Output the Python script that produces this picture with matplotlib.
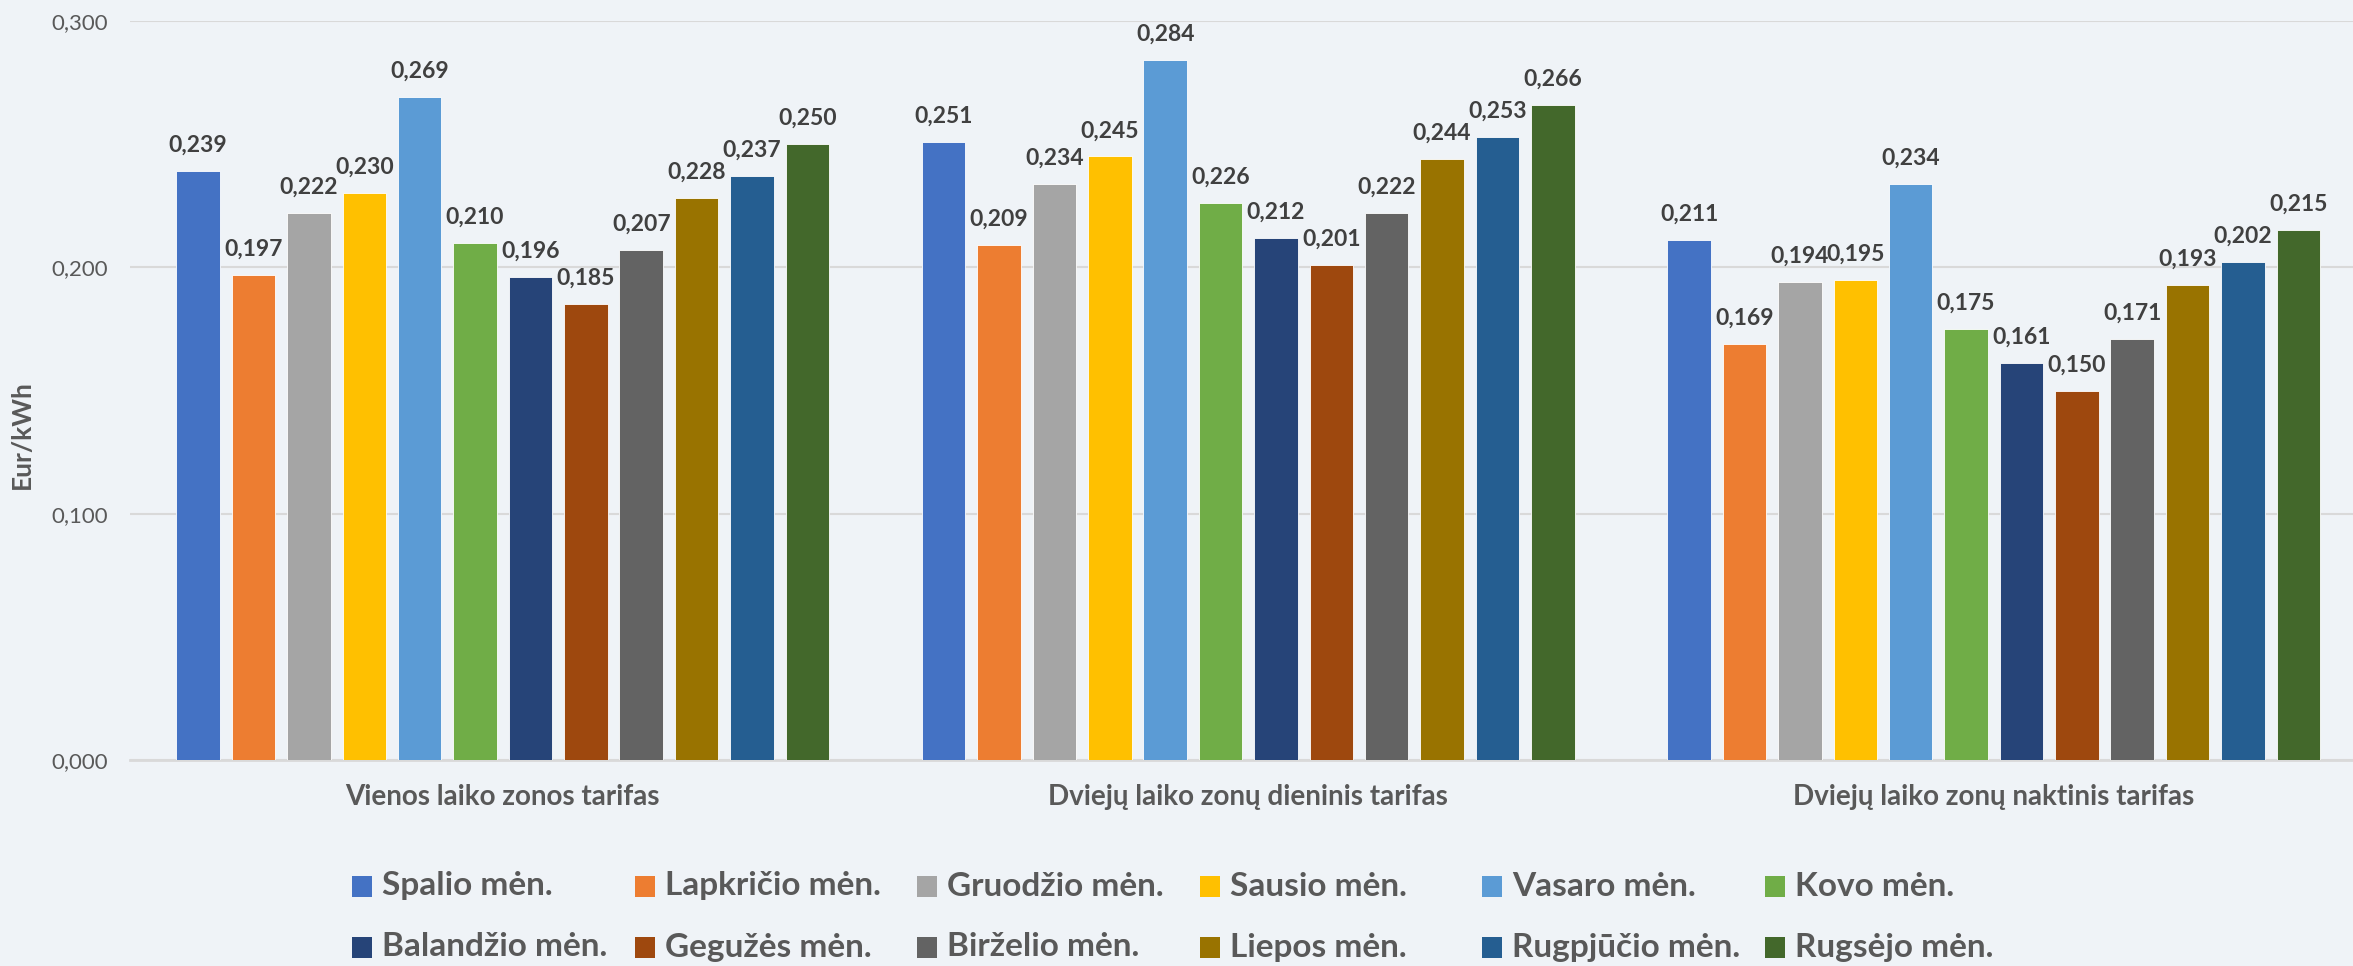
import numpy as np
import matplotlib.pyplot as plt
from matplotlib.patches import Rectangle

# data
categories = ['Vienos laiko zonos tarifas', 'Dviejų laiko zonų dieninis tarifas',
              'Dviejų laiko zonų naktinis tarifas']
months = ['Spalio mėn.', 'Lapkričio mėn.', 'Gruodžio mėn.', 'Sausio mėn.', 'Vasaro mėn.',
          'Kovo mėn.', 'Balandžio mėn.', 'Gegužės mėn.', 'Birželio mėn.', 'Liepos mėn.',
          'Rugpjūčio mėn.', 'Rugsėjo mėn.']
vienos = [0.239, 0.197, 0.222, 0.230, 0.269, 0.210, 0.196, 0.185, 0.207, 0.228, 0.237, 0.250]
dieninis = [0.251, 0.209, 0.234, 0.245, 0.284, 0.226, 0.212, 0.201, 0.222, 0.244, 0.253, 0.266]
naktinis = [0.211, 0.169, 0.194, 0.195, 0.234, 0.175, 0.161, 0.150, 0.171, 0.193, 0.202, 0.215]
yticks = [0.0, 0.1, 0.2, 0.3]

colors = ['#4472C4', '#ED7D31', '#A5A5A5', '#FFC000', '#5B9BD5', '#70AD47',
          '#264478', '#9E480E', '#636363', '#997300', '#255E91', '#43682B']

bg = '#EFF3F7'
txt = '#595959'
plt.rcParams['font.family'] = ['Lato', 'DejaVu Sans']

fig = plt.figure(figsize=(23.53, 9.66), dpi=100, facecolor=bg)
ax = fig.add_axes([130 / 2353, 1 - 760 / 966, 2236.5 / 2353, (760 - 21) / 966])
ax.set_facecolor(bg)

values = np.array([vienos, dieninis, naktinis])  # shape (3, 12)
x = np.arange(len(categories))
step = 0.0743
width = 0.0584

for i, m in enumerate(months):
    pos = x + (i - 5.5) * step
    bars = ax.bar(pos, values[:, i], width, color=colors[i], edgecolor='white',
                  linewidth=0.6, zorder=3, label=m)
    for b, v in zip(bars, values[:, i]):
        ax.annotate(f"{v:.3f}".replace('.', ','), (b.get_x() + b.get_width() / 2, v),
                    xytext=(0, 11), textcoords='offset points', ha='center', va='bottom',
                    fontsize=16.5, fontweight='bold', color='#404040', zorder=4)

ax.set_xlim(-0.5, 2.5)
ax.set_ylim(0, 0.3)
ax.set_yticks(yticks)
ax.set_yticklabels([f"{t:.3f}".replace('.', ',') for t in yticks], fontsize=16, color=txt)
ax.set_xticks(x)
ax.set_xticklabels(categories, fontsize=20, fontweight='bold', color=txt)
ax.tick_params(axis='y', length=0, pad=16)
ax.tick_params(axis='x', length=0, pad=17)
ax.grid(axis='y', color='#D9D9D9', linewidth=1.5, zorder=0)
for s in ['top', 'right', 'left']:
    ax.spines[s].set_visible(False)
ax.spines['bottom'].set_color('#D9D9D9')
ax.spines['bottom'].set_linewidth(2)

fig.text(22 / 2353, 1 - 435 / 966, 'Eur/kWh', rotation=90, ha='center', va='center',
         fontsize=19, fontweight='bold', color=txt)

# legend laid out like Excel: 6 columns, 2 rows
col_x = 352
col_dx = 282.6
row_y = [886, 947]
for i, m in enumerate(months):
    cx = col_x + (i % 6) * col_dx
    cy = row_y[i // 6]
    fig.patches.append(Rectangle((cx / 2353, 1 - (cy + 10.5) / 966), 20 / 2353, 21 / 966,
                                 transform=fig.transFigure, facecolor=colors[i],
                                 edgecolor='none'))
    fig.text((cx + 30) / 2353, 1 - cy / 966, m, ha='left', va='center', fontsize=24,
             fontweight='bold', color=txt)

fig.savefig('out.png', dpi=100, facecolor=bg)
